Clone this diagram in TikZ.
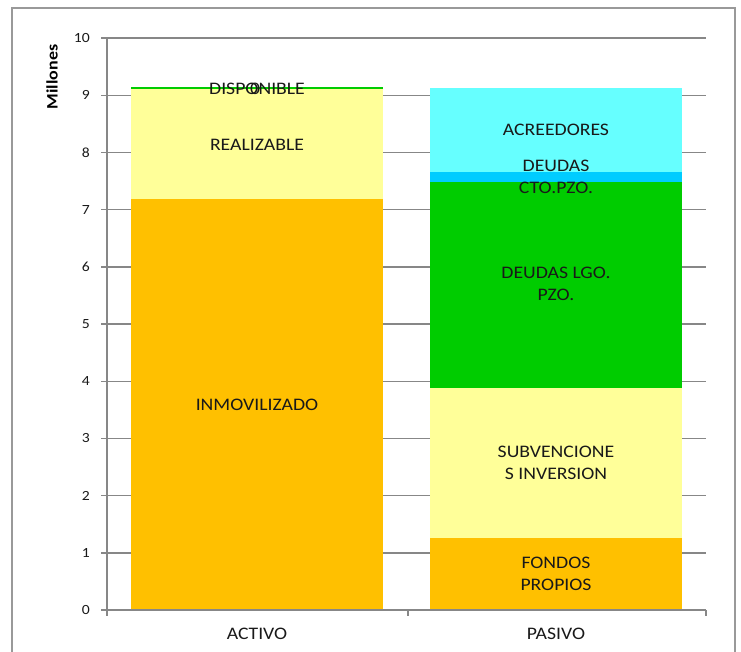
\documentclass[tikz,border=0pt]{standalone}
\usepackage{fontspec}
\newfontfamily\lbl[FakeStretch=1.12]{Carlito}
\begin{document}
\begin{tikzpicture}[x=1pt,y=-1pt,
  grid/.style={draw=black!47,line width=1.4pt},
  frame/.style={draw=black!40,line width=1.4pt},
  lab/.style={font=\lbl\fontsize{17.6}{22.5}\selectfont,text=black!90,align=center,inner sep=0pt},
  tick/.style={font=\lbl\fontsize{14}{16}\selectfont,text=black!90,anchor=east,inner sep=0pt}]
\useasboundingbox (0,0) rectangle (741,651);
\definecolor{orng}{HTML}{FFC000}
\definecolor{ylw}{HTML}{FFFF99}
\definecolor{grn}{HTML}{00CC00}
\definecolor{cyn}{HTML}{66FFFF}
\definecolor{blu}{HTML}{00CCFF}
% outer frame
\coordinate (fbl) at (12,660);
\coordinate (ftl) at (12,8);
\coordinate (ftr) at (735,8);
\coordinate (fbr) at (735,660);
\draw[frame] (fbl) -- (ftl) -- (ftr) -- (fbr);
% gridlines and ticks
\foreach \v in {1,...,10} {
  \coordinate (gl\v) at (101,{610-57.2*\v});
  \coordinate (gr\v) at (706,{610-57.2*\v});
  \draw[grid] (gl\v) -- (gr\v);
}
\foreach \v in {0,...,10} {
  \node[tick] (t\v) at (90,{610-57.2*\v}) {\v};
}
% bars
\fill[orng] (131,610) rectangle (383,{610-57.2*7.18});
\fill[ylw] (131,{610-57.2*7.18}) rectangle (383,{610-57.2*9.10});
\fill[grn] (131,{610-57.2*9.10}) rectangle (383,{610-57.2*9.14});
\fill[orng] (430,610) rectangle (682,{610-57.2*1.26});
\fill[ylw] (430,{610-57.2*1.26}) rectangle (682,{610-57.2*3.88});
\fill[grn] (430,{610-57.2*3.88}) rectangle (682,{610-57.2*7.48});
\fill[blu] (430,{610-57.2*7.48}) rectangle (682,{610-57.2*7.66});
\fill[cyn] (430,{610-57.2*7.66}) rectangle (682,{610-57.2*9.13});
% axes
\coordinate (ya) at (107,38);
\coordinate (yb) at (107,616);
\draw[grid] (ya) -- (yb);
\coordinate (xa) at (101,610);
\coordinate (xb) at (706,610);
\draw[grid] (xa) -- (xb);
\coordinate (xm1) at (408,610);
\coordinate (xm2) at (408,616);
\draw[grid] (xm1) -- (xm2);
\coordinate (xe1) at (706,610);
\coordinate (xe2) at (706,616);
\draw[grid] (xe1) -- (xe2);
% labels
\node[lab] (disp) at (257,89) {DISPONIBLE};
\node[lab] (disp0) at (255,89) {0};
\node[lab] (real) at (257,145) {REALIZABLE};
\node[lab] (inmo) at (257,405) {INMOVILIZADO};
\node[lab] (acre) at (556,130) {ACREEDORES};
\node[lab] (dcp) at (556,177) {DEUDAS\\CTO.PZO.};
\node[lab] (dlp) at (556,284) {DEUDAS LGO.\\PZO.};
\node[lab] (subv) at (556,463) {SUBVENCIONE\\S INVERSION};
\node[lab] (fond) at (556,574) {FONDOS\\PROPIOS};
\node[lab] (act) at (257,634) {ACTIVO};
\node[lab] (pas) at (556,634) {PASIVO};
\node[font=\lbl\bfseries\fontsize{16}{18}\selectfont,rotate=90,inner sep=0pt] (mill) at (52,77) {Millones};
\end{tikzpicture}
\end{document}
